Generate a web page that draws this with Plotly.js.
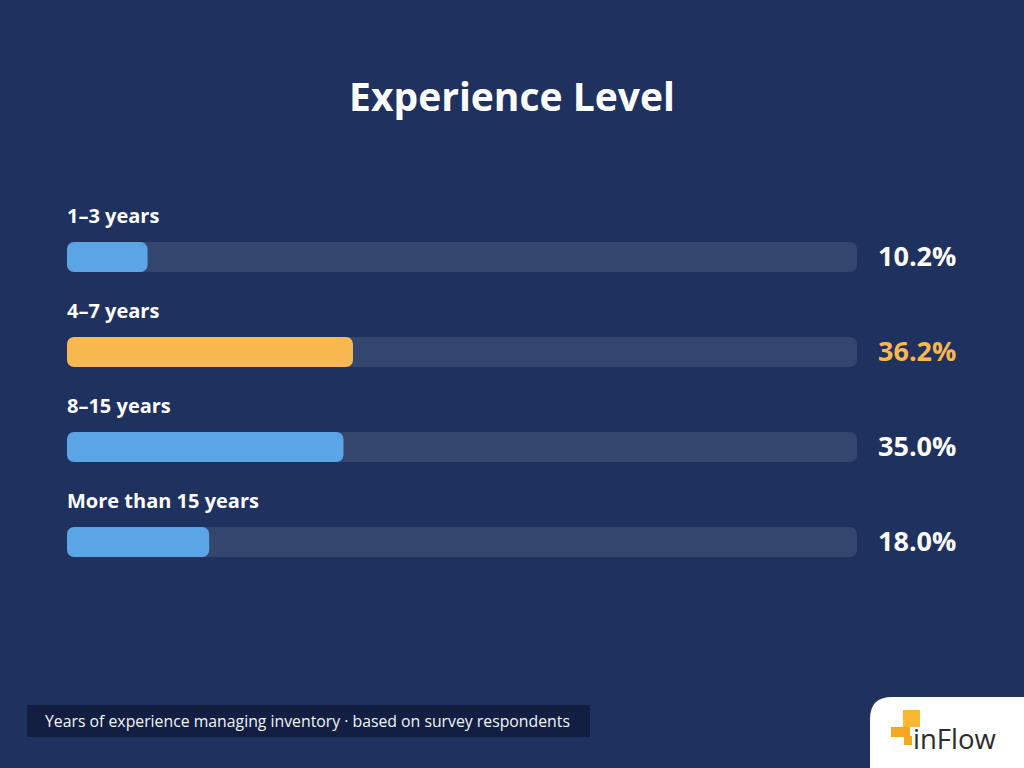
<!DOCTYPE html>
<html>
<head>
<meta charset="utf-8">
<script src="https://cdn.plot.ly/plotly-3.0.1.min.js"></script>
<style>
  html, body { margin: 0; padding: 0; background: #1f315e; }
  #chart { width: 1024px; height: 768px; }
</style>
</head>
<body>
<div id="chart"></div>
<script>
// Survey: years of experience managing inventory
const categories = ['1–3 years', '4–7 years', '8–15 years', 'More than 15 years'];
const shares = [10.2, 36.2, 35.0, 18.0];
const valueLabels = ['10.2%', '36.2%', '35.0%', '18.0%'];
const trackTotal = 100;
const highlightIndex = 1;

const BG = '#1f315e';
const TRACK = '#34466d';
const BLUE = '#5ba4e6';
const ORANGE = '#f7b84f';
const FONT = 'Open Sans, Lato, sans-serif';
const RADIUS = 7;
const BAR_W = 0.316;

const rows = categories.map((_, i) => i);
const barColors = rows.map(i => (i === highlightIndex ? ORANGE : BLUE));

// With an explicit base, Plotly rounds every corner of the bar (pill shape)
function pill(values, color) {
  return {
    type: 'bar', orientation: 'h', y: rows, width: BAR_W,
    x: values, base: rows.map(() => 0),
    marker: { color: color, cornerradius: RADIUS },
    hoverinfo: 'skip', showlegend: false
  };
}

const traces = [
  pill(rows.map(() => trackTotal), TRACK),
  pill(shares, barColors)
];

const annotations = [];
rows.forEach(i => {
  annotations.push({
    x: 0, y: i - 0.43, xref: 'x', yref: 'y', xshift: -2, yshift: 1,
    xanchor: 'left', yanchor: 'middle',
    text: '<b>' + categories[i] + '</b>',
    showarrow: false,
    font: { family: FONT, size: 20, color: '#ffffff' }
  });
  annotations.push({
    x: trackTotal, y: i, xref: 'x', yref: 'y', xshift: 19, yshift: 2,
    xanchor: 'left', yanchor: 'middle',
    text: '<b>' + valueLabels[i] + '</b>',
    showarrow: false,
    font: { family: FONT, size: 27, color: i === highlightIndex ? ORANGE : '#ffffff' }
  });
});

// paper coords: x 0..1 -> px 67..857, y 0..1 -> px 637..162
const px = v => (v - 67) / 790;
const py = v => (637 - v) / 475;

// footnote text
annotations.push({
  x: px(43), y: py(721), xref: 'paper', yref: 'paper',
  xanchor: 'left', yanchor: 'middle',
  text: 'Years of experience managing inventory · based on survey respondents',
  showarrow: false,
  font: { family: FONT, size: 15.8, color: '#f2f4f8' }
});

// logo wordmark
annotations.push({
  x: px(911), y: py(738), xref: 'paper', yref: 'paper',
  xanchor: 'left', yanchor: 'middle',
  text: 'inFlow',
  showarrow: false,
  font: { family: FONT, size: 27.5, color: '#2b2b2b' }
});

const shapes = [
  // footnote box
  { type: 'rect', xref: 'paper', yref: 'paper', layer: 'below',
    x0: px(27), x1: px(590), y0: py(705), y1: py(737),
    fillcolor: '#131f42', line: { width: 0 } },
  // white logo tab with rounded top-left corner
  { type: 'path', xref: 'paper', yref: 'paper',
    path: `M ${px(870)} ${py(780)} L ${px(870)} ${py(719)} Q ${px(870)} ${py(697)} ${px(892)} ${py(697)} L ${px(1030)} ${py(697)} L ${px(1030)} ${py(780)} Z`,
    fillcolor: '#ffffff', line: { width: 0 } },
  // logo mark pieces
  { type: 'rect', xref: 'paper', yref: 'paper',
    x0: px(903), x1: px(920), y0: py(727), y1: py(710),
    fillcolor: '#fbb731', line: { width: 0 } },
  { type: 'rect', xref: 'paper', yref: 'paper',
    x0: px(891), x1: px(910), y0: py(737), y1: py(727),
    fillcolor: '#f7a823', line: { width: 0 } },
  { type: 'rect', xref: 'paper', yref: 'paper',
    x0: px(904), x1: px(912), y0: py(745), y1: py(736),
    fillcolor: '#f7a823', line: { width: 0 } }
];

const layout = {
  width: 1024,
  height: 768,
  paper_bgcolor: BG,
  plot_bgcolor: BG,
  margin: { l: 67, r: 167, t: 162, b: 131, pad: 0 },
  barmode: 'overlay',
  title: {
    text: '<b>Experience Level</b>',
    x: 0.5, xref: 'container', xanchor: 'center',
    y: 1 - 97 / 768, yref: 'container', yanchor: 'middle',
    font: { family: FONT, size: 39, color: '#ffffff' }
  },
  xaxis: { range: [0, trackTotal], visible: false, fixedrange: true },
  yaxis: { range: [3.999, -1], visible: false, fixedrange: true },
  annotations: annotations,
  shapes: shapes,
  showlegend: false
};

Plotly.newPlot('chart', traces, layout, { staticPlot: true, displayModeBar: false });
</script>
</body>
</html>
